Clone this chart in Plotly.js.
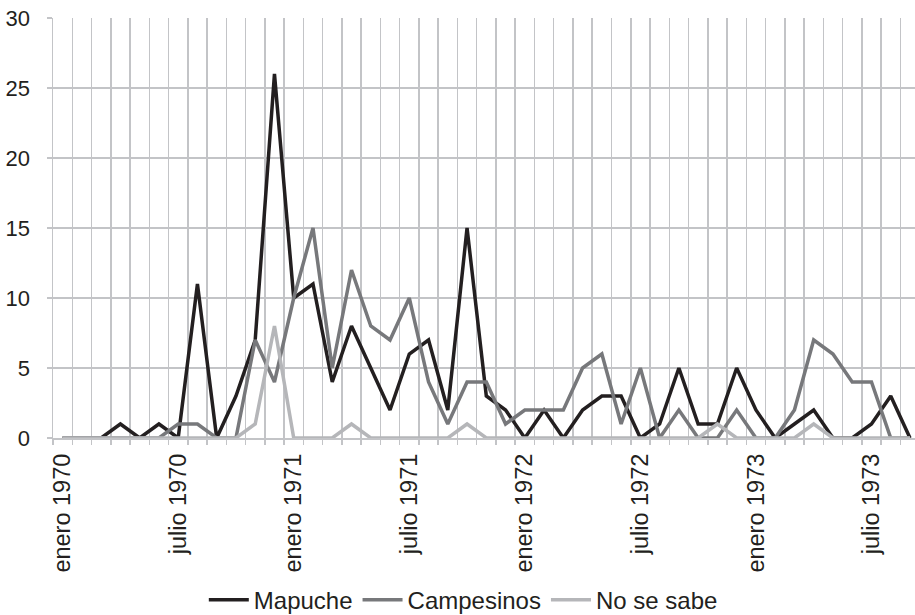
<!DOCTYPE html>
<html>
<head>
<meta charset="utf-8">
<script src="https://cdn.plot.ly/plotly-3.0.1.min.js"></script>
<style>
html,body{margin:0;padding:0;background:#fff;}
#chart{width:915px;height:615px;}
</style>
</head>
<body>
<div id="chart"></div>
<script>
const months = [
  'ene 1970','feb 1970','mar 1970','abr 1970','may 1970','jun 1970','jul 1970','ago 1970','sep 1970','oct 1970','nov 1970','dic 1970',
  'ene 1971','feb 1971','mar 1971','abr 1971','may 1971','jun 1971','jul 1971','ago 1971','sep 1971','oct 1971','nov 1971','dic 1971',
  'ene 1972','feb 1972','mar 1972','abr 1972','may 1972','jun 1972','jul 1972','ago 1972','sep 1972','oct 1972','nov 1972','dic 1972',
  'ene 1973','feb 1973','mar 1973','abr 1973','may 1973','jun 1973','jul 1973','ago 1973','sep 1973'
];
const mapuche    = [0,0,0,1,0,1,0,11,0,3,7,26,10,11,4,8,5,2,6,7,2,15,3,2,0,2,0,2,3,3,0,1,5,1,1,5,2,0,1,2,0,0,1,3,0];
const campesinos = [0,0,0,0,0,0,1,1,0,0,7,4,10,15,5,12,8,7,10,4,1,4,4,1,2,2,2,5,6,1,5,0,2,0,0,2,0,0,2,7,6,4,4,0,0];
const noSeSabe   = [0,0,0,0,0,0,0,0,0,0,1,8,0,0,0,1,0,0,0,0,0,1,0,0,0,0,0,0,0,0,0,0,0,0,1,0,0,0,0,1,0,0,0,0,0];
const tickMonths = ['ene 1970','jul 1970','ene 1971','jul 1971','ene 1972','jul 1972','ene 1973','jul 1973'];
const tickLabels = ['enero 1970','julio 1970','enero 1971','julio 1971','enero 1972','julio 1972','enero 1973','julio 1973'];
const seriesNames = ['Mapuche','Campesinos','No se sabe'];

const xIdx = months.map((m, i) => i);
const boundaries = months.map((m, i) => i - 0.5).concat([months.length - 0.5]);
const tickIdx = tickMonths.map(m => months.indexOf(m));

const colors = ['#231f20', '#77787b', '#b5b6b9'];
const gridColor = '#c3c4c7';
const textColor = '#231f20';
const font = 'Liberation Sans, Arial, sans-serif';

const traces = [mapuche, campesinos, noSeSabe].map((vals, k) => ({
  x: xIdx,
  y: vals,
  type: 'scatter',
  mode: 'lines',
  name: seriesNames[k],
  line: {color: colors[k], width: 3.5},
  hoverinfo: 'x+y+name'
}));

const xRange = [-0.5, 44.26];

const layout = {
  width: 915,
  height: 615,
  margin: {l: 53, r: 0, t: 18, b: 177, autoexpand: false},
  paper_bgcolor: '#ffffff',
  plot_bgcolor: '#ffffff',
  font: {family: font, color: textColor, size: 22},
  showlegend: true,
  legend: {
    orientation: 'h',
    x: 0.476,
    xanchor: 'center',
    y: -0.386,
    yanchor: 'middle',
    font: {family: font, size: 24, color: textColor},
    itemwidth: 40,
    tracegroupgap: 0
  },
  xaxis: {
    type: 'linear',
    range: xRange,
    tickmode: 'array',
    tickvals: boundaries,
    ticktext: boundaries.map(() => ''),
    ticks: 'outside',
    ticklen: 5,
    tickwidth: 1.5,
    tickcolor: gridColor,
    showgrid: true,
    gridcolor: gridColor,
    gridwidth: 1.5,
    showline: true,
    linecolor: gridColor,
    linewidth: 1.5,
    zeroline: false,
    automargin: false,
    fixedrange: true
  },
  xaxis2: {
    overlaying: 'x',
    matches: 'x',
    anchor: 'y',
    side: 'bottom',
    range: xRange,
    tickmode: 'array',
    tickvals: tickIdx,
    ticktext: tickLabels,
    tickangle: -90,
    ticks: '',
    ticklabelstandoff: 10,
    showgrid: false,
    showline: false,
    zeroline: false,
    automargin: false,
    tickfont: {family: font, size: 23.5, color: textColor}
  },
  yaxis: {
    range: [0, 30],
    tickmode: 'linear',
    tick0: 0,
    dtick: 5,
    ticks: 'outside',
    ticklen: 5,
    tickwidth: 1.5,
    tickcolor: gridColor,
    showgrid: true,
    gridcolor: gridColor,
    gridwidth: 1.5,
    showline: true,
    linecolor: gridColor,
    linewidth: 1.5,
    zeroline: false,
    automargin: false,
    ticklabelstandoff: 12,
    tickfont: {family: font, size: 22, color: textColor},
    fixedrange: true
  }
};

// invisible trace on xaxis2 so its labels are drawn
traces.push({x: [0], y: [0], xaxis: 'x2', yaxis: 'y', mode: 'markers', marker: {opacity: 0}, showlegend: false, hoverinfo: 'skip'});

Plotly.newPlot('chart', traces, layout, {staticPlot: true, displayModeBar: false});
</script>
</body>
</html>
